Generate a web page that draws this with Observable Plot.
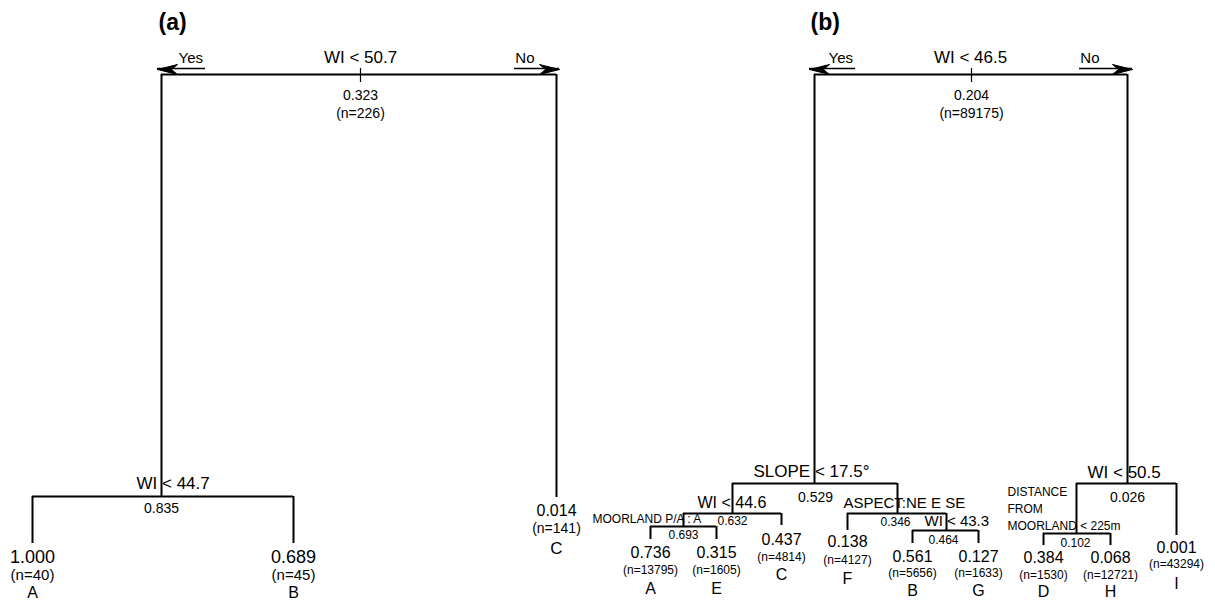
<!DOCTYPE html>
<html><head><meta charset="utf-8">
<script src="https://cdn.jsdelivr.net/npm/d3@7"></script>
<script src="https://cdn.jsdelivr.net/npm/@observablehq/plot@0.6"></script>
<style>body{margin:0;background:#fff}</style>
</head><body><div id="chart"></div>
<script>
// ---------------- DATA ----------------
const panelLabels = ["(a)", "(b)"];
const branchLabels = ["Yes", "No"];

// Tree (a)
const treeA_id     = ["a1", "a2", "a3", "a4", "a5"];
const treeA_parent = [null, "a1", "a2", "a2", "a1"];
const treeA_split  = ["WI < 50.7", "WI < 44.7", null, null, null];
const treeA_value  = [0.323, 0.835, 1.000, 0.689, 0.014];
const treeA_n      = [226, null, 40, 45, 141];
const treeA_class  = [null, null, "A", "B", "C"];

// Tree (b)
const treeB_id     = ["b1","b2","b3","b4","b5","b6","b7","b8","b9","b10","b11","b12","b13","b14","b15","b16","b17"];
const treeB_parent = [null,"b1","b2","b3","b4","b4","b3","b2","b8","b8","b10","b10","b1","b13","b14","b14","b13"];
const treeB_split  = ["WI < 46.5","SLOPE < 17.5°","WI < 44.6","MOORLAND P/A : A",null,null,null,
                      "ASPECT:NE E SE",null,"WI < 43.3",null,null,"WI < 50.5",
                      "DISTANCE\nFROM\nMOORLAND < 225m",null,null,null];
const treeB_value  = [0.204,0.529,0.632,0.693,0.736,0.315,0.437,0.346,0.138,0.464,0.561,0.127,0.026,0.102,0.384,0.068,0.001];
const treeB_n      = [89175,null,null,null,13795,1605,4814,null,4127,null,5656,1633,null,null,1530,12721,43294];
const treeB_class  = [null,null,null,null,"A","E","C",null,"F",null,"B","G",null,null,"D","H","I"];

// ---------------- LAYOUT (positions / sizes) ----------------
// node: x, y (bar y for splits, end of branch for leaves)
// sp: split label [x, y, size, anchor]; vp: value label [x, y, size]; np: [y, size]; cp: [y, size]
const layout = {
  a1:{x:360,y:74, sp:[360,57,17,"middle"], vp:[360,95,14], np:[113,14]},
  a2:{x:161,y:496, sp:[136,483,17,"start"], vp:[161,508,14]},
  a3:{x:32,y:543, vp:[32,557,18], np:[575,15], cp:[592,16]},
  a4:{x:293,y:543, vp:[293,557,18], np:[575,15], cp:[592,16]},
  a5:{x:556,y:497, vp:[556,510,16], np:[528,14], cp:[548,17]},
  b1:{x:971,y:74, sp:[970,57,17,"middle"], vp:[971,95,14], np:[113,14]},
  b2:{x:814,y:483, sp:[753,471,17,"start"], vp:[815,497,14]},
  b3:{x:732,y:513, sp:[697,502,16,"start"], vp:[732,521,12]},
  b4:{x:683,y:526, sp:[592,519,12,"start"], vp:[683,535,12]},
  b5:{x:650,y:539, vp:[650,552,16], np:[570,12], cp:[588,16]},
  b6:{x:716,y:539, vp:[716,552,16], np:[570,12], cp:[588,16]},
  b7:{x:781,y:525, vp:[781,539,16], np:[557,12], cp:[574,16]},
  b8:{x:897,y:513, sp:[843,503,15,"start"], vp:[895,522,12]},
  b9:{x:847,y:530, vp:[847,541,16], np:[560,12], cp:[578,16]},
  b10:{x:946,y:530, sp:[924,521,15,"start"], vp:[943,540,12]},
  b11:{x:912,y:543, vp:[912,556,16], np:[573,12], cp:[590,16]},
  b12:{x:978,y:543, vp:[978,556,16], np:[573,12], cp:[590,16]},
  b13:{x:1127,y:483, sp:[1087,472,17,"start"], vp:[1127,497,14]},
  b14:{x:1076,y:533, sp:[1007,492,12,"start"], vp:[1075,543,12]},
  b15:{x:1043,y:545, vp:[1043,557,16], np:[575,12], cp:[591,16]},
  b16:{x:1110,y:545, vp:[1110,557,16], np:[575,12], cp:[591,16]},
  b17:{x:1176,y:535, vp:[1176,547,16], np:[564,12], cp:[583,16]}
};
const panelPos = [[158,22],[810,22]];
const arrowLayout = [
  {root:"a1", yesStart:178, noEnd:534, leftTip:157, rightTip:559, y:69},
  {root:"b1", yesStart:828, noEnd:1099, leftTip:809, rightTip:1132, y:69}
];
const lineStep = 17;

// ---------------- BUILD ----------------
function build(ids, parents, splits, values, ns, classes) {
  return ids.map((id, i) => ({...layout[id], id, parent: parents[i], split: splits[i], value: values[i], count: ns[i], cls: classes[i]}));
}
const nodes = [
  ...build(treeA_id, treeA_parent, treeA_split, treeA_value, treeA_n, treeA_class),
  ...build(treeB_id, treeB_parent, treeB_split, treeB_value, treeB_n, treeB_class)
];
const byId = new Map(nodes.map(d => [d.id, d]));
const children = id => nodes.filter(d => d.parent === id);

const bars = nodes.filter(d => d.split).map(d => {
  const xs = children(d.id).map(c => c.x);
  return {y: d.y, x1: d3.min(xs), x2: d3.max(xs)};
});
const verticals = nodes.filter(d => d.parent).map(d => ({x: d.x, y1: byId.get(d.parent).y, y2: d.y}));
const roots = nodes.filter(d => !d.parent);
const ticks = roots.map(d => ({x: d.x, y1: d.y - 6, y2: d.y + 8}));

const texts = [];
for (const d of nodes) {
  if (d.split) {
    d.split.split("\n").forEach((line, k) =>
      texts.push({x: d.sp[0], y: d.sp[1] + k * lineStep, text: line, size: d.sp[2], anchor: d.sp[3]}));
  }
  texts.push({x: d.vp[0], y: d.vp[1], text: d.value.toFixed(3), size: d.vp[2], anchor: "middle"});
  if (d.count != null) texts.push({x: d.x, y: d.np[0], text: `(n=${d.count})`, size: d.np[1], anchor: "middle"});
  if (d.cls) texts.push({x: d.x, y: d.cp[0], text: d.cls, size: d.cp[1], anchor: "middle"});
}
const branchTexts = [];
const shafts = [];
const heads = [];
arrowLayout.forEach((a, i) => {
  branchTexts.push({x: a.yesStart, y: a.y - 11, text: branchLabels[0], anchor: "start"});
  branchTexts.push({x: a.noEnd, y: a.y - 11, text: branchLabels[1], anchor: "end"});
  shafts.push({y: a.y - 1, x1: a.leftTip, x2: a.yesStart + 27});
  shafts.push({y: a.y - 1, x1: a.noEnd - 20, x2: a.rightTip});
  const L = a.leftTip, R = a.rightTip, y = a.y;
  [[L,y],[L+20,y-5],[L+14,y],[L+20,y+5],[L,y]].forEach(p => heads.push({k: "L"+i, x: p[0], y: p[1]}));
  [[R,y],[R-20,y-5],[R-14,y],[R-20,y+5],[R,y]].forEach(p => heads.push({k: "R"+i, x: p[0], y: p[1]}));
});
const panelTexts = panelLabels.map((t, i) => ({x: panelPos[i][0], y: panelPos[i][1], text: t}));

const chart = Plot.plot({
  width: 1215, height: 603, margin: 0,
  x: {domain: [0, 1215], range: [0, 1215], axis: null},
  y: {domain: [0, 603], range: [0, 603], axis: null},
  style: {fontFamily: "'Liberation Sans', Arial, sans-serif", background: "white", color: "black"},
  marks: [
    Plot.ruleY(bars, {y: "y", x1: "x1", x2: "x2", stroke: "black", strokeWidth: 2}),
    Plot.ruleX(verticals, {x: "x", y1: "y1", y2: "y2", stroke: "black", strokeWidth: 2}),
    Plot.ruleX(ticks, {x: "x", y1: "y1", y2: "y2", stroke: "black", strokeWidth: 1.2}),
    Plot.ruleY(shafts, {y: "y", x1: "x1", x2: "x2", stroke: "black", strokeWidth: 1.5}),
    Plot.line(heads, {x: "x", y: "y", z: "k", fill: "black", stroke: "black", strokeWidth: 1}),
    Plot.text(texts.filter(d => d.anchor === "middle"), {x: "x", y: "y", text: "text", fontSize: "size", textAnchor: "middle", fill: "black"}),
    Plot.text(texts.filter(d => d.anchor === "start"), {x: "x", y: "y", text: "text", fontSize: "size", textAnchor: "start", fill: "black"}),
    Plot.text(branchTexts.filter(d => d.anchor === "start"), {x: "x", y: "y", text: "text", fontSize: 15, textAnchor: "start", fill: "black"}),
    Plot.text(branchTexts.filter(d => d.anchor === "end"), {x: "x", y: "y", text: "text", fontSize: 15, textAnchor: "end", fill: "black"}),
    Plot.text(panelTexts, {x: "x", y: "y", text: "text", fontSize: 23, fontWeight: "bold", textAnchor: "start", fill: "black"})
  ]
});
document.getElementById("chart").appendChild(chart);
</script>
</body></html>
